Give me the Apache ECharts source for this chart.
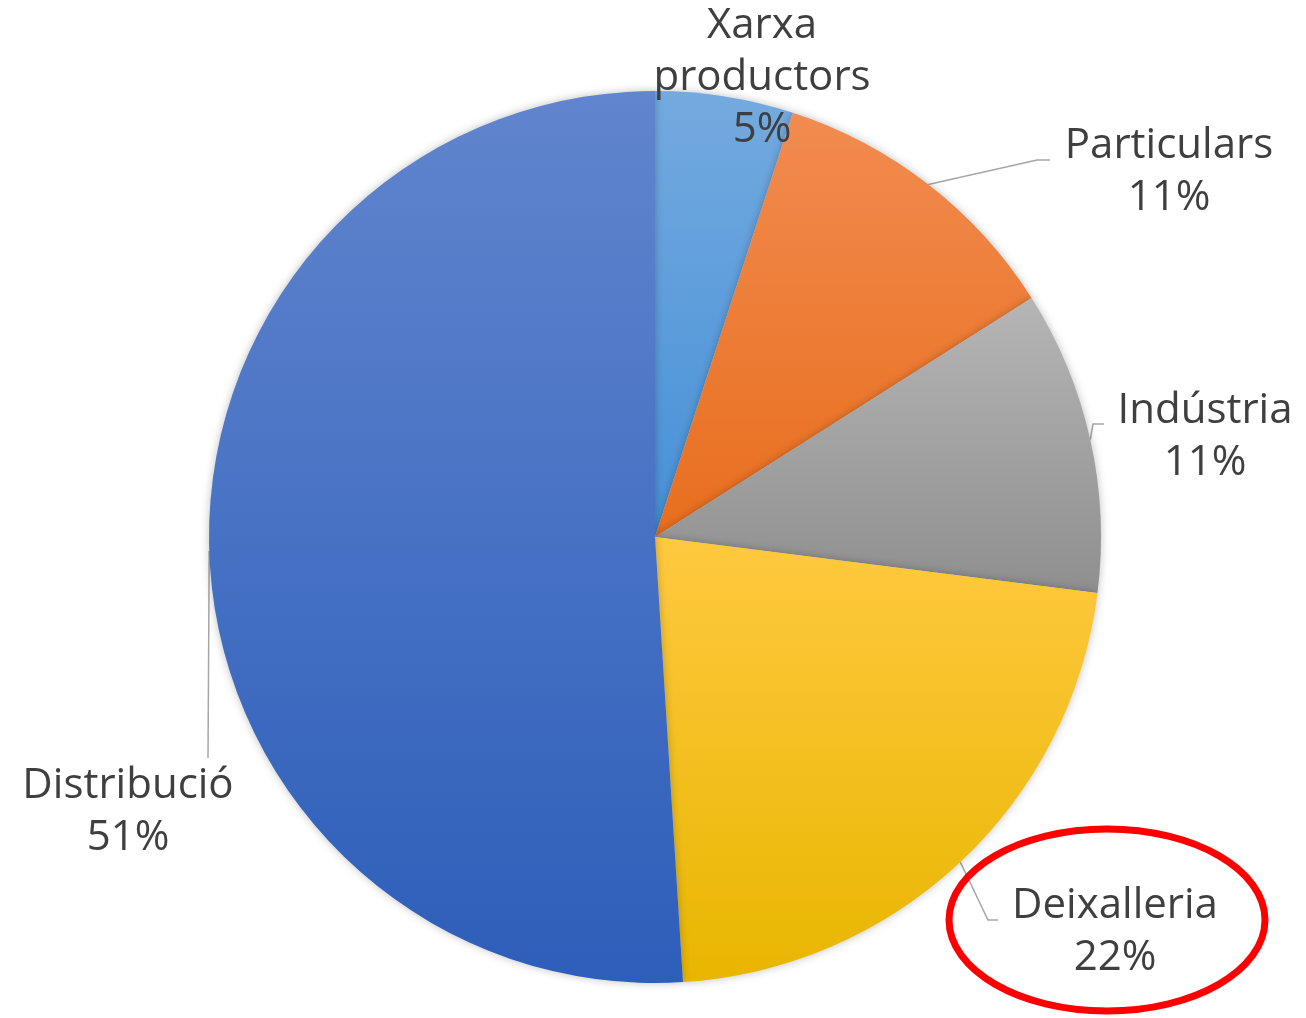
<!DOCTYPE html>
<html>
<head>
<meta charset="utf-8">
<script src="https://cdn.jsdelivr.net/npm/echarts@6/dist/echarts.min.js"></script>
<style>
  html, body { margin: 0; padding: 0; background: #fff; }
  #chart { width: 1306px; height: 1018px; }
</style>
</head>
<body>
<div id="chart"></div>
<script>
// data
const categories = ['Xarxa productors', 'Particulars', 'Indústria', 'Deixalleria', 'Distribució'];
const shares = [5, 11, 11, 22, 51];

// slice gradients (top -> bottom)
const gradTop = ['#74AADF', '#F28B50', '#B5B5B5', '#FFC940', '#6185CE'];
const gradBottom = ['#4690D7', '#E86E1D', '#8F8F8F', '#E8B600', '#2D5EB9'];

// where the labels sit and how the leader lines bend
const labelSpots = [
  { x: 762, y: 78, guide: null },
  { x: 1169, y: 172, guide: [[1037, 160], [1050, 160]] },
  { x: 1205, y: 437, guide: [[1093, 424], [1104, 424]] },
  { x: 1115, y: 932, guide: [[988, 920], [998, 920]] },
  { x: 128, y: 812, guide: [[208, 758], [208, 758]] }
];

const chart = echarts.init(document.getElementById('chart'));

const seriesData = categories.map((name, i) => ({
  name: name,
  value: shares[i],
  itemStyle: {
    color: new echarts.graphic.LinearGradient(0, 0, 0, 1, [
      { offset: 0, color: gradTop[i] },
      { offset: 1, color: gradBottom[i] }
    ])
  },
  labelLine: { show: labelSpots[i].guide !== null }
}));

chart.setOption({
  animation: false,
  series: [
    {
      type: 'pie',
      center: [655, 537],
      radius: 446,
      startAngle: 90,
      clockwise: true,
      percentPrecision: 0,
      avoidLabelOverlap: false,
      data: seriesData,
      itemStyle: {
        borderWidth: 0,
        shadowBlur: 8,
        shadowColor: 'rgba(0, 0, 0, 0.25)'
      },
      label: {
        show: true,
        position: 'outside',
        color: '#3F3F3F',
        fontFamily: 'Open Sans',
        fontWeight: 500,
        fontSize: 42,
        lineHeight: 52,
        align: 'center',
        formatter: p => p.name.replace(' ', '\n') + '\n' + p.percent + '%'
      },
      labelLine: {
        show: true,
        lineStyle: { color: '#A6A6A6', width: 1.5 }
      },
      labelLayout: function (params) {
        const spot = labelSpots[params.dataIndex];
        const out = { x: spot.x, y: spot.y, align: 'center', verticalAlign: 'middle' };
        if (spot.guide && params.labelLinePoints) {
          out.labelLinePoints = [params.labelLinePoints[0]].concat(spot.guide);
        }
        return out;
      }
    }
  ],
  graphic: [
    {
      type: 'ellipse',
      shape: { cx: 1107, cy: 920, rx: 158, ry: 91 },
      style: { fill: 'none', stroke: '#FF0000', lineWidth: 7 },
      z: 100
    }
  ]
});
</script>
</body>
</html>
